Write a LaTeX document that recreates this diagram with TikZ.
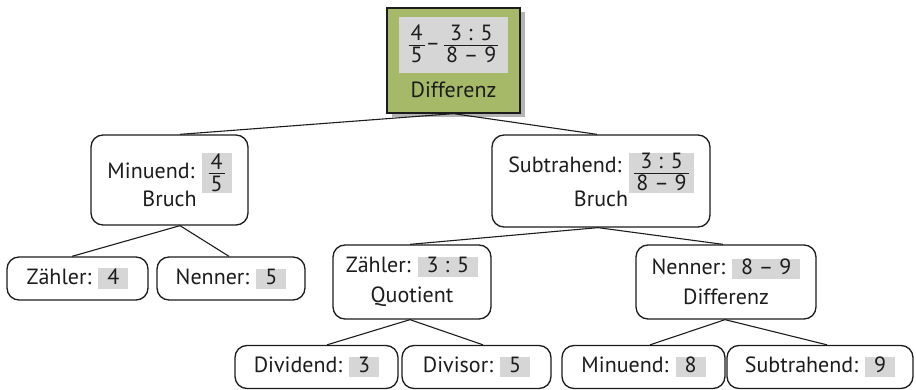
\documentclass[tikz,border=0pt]{standalone}
\usepackage{fontspec}
\setmainfont{PT Sans}
\usetikzlibrary{shadows}
\definecolor{ink}{RGB}{28,28,28}
\definecolor{lgray}{RGB}{214,214,214}
\definecolor{olivebox}{RGB}{166,185,104}
\definecolor{shadowgray}{RGB}{180,180,180}
\renewcommand\arraystretch{0}
\setlength\arrayrulewidth{1.1pt}
\newcommand\fr[2]{\begin{tabular}[c]{@{\hspace{2pt}}c@{\hspace{2pt}}}\rule[-4pt]{0pt}{19pt}#1\\\hline\rule[-2pt]{0pt}{19pt}#2\end{tabular}}
\newcommand\gv[1]{{\setlength\fboxsep{0pt}\colorbox{lgray}{\hspace{9pt}\rule[-4.5pt]{0pt}{20pt}#1\hspace{9pt}}}}
\newcommand\gf[2]{{\setlength\fboxsep{0pt}\colorbox{lgray}{\hspace{#1}#2\hspace{#1}}}}
\begin{document}
\begin{tikzpicture}[x=1pt,y=-1pt,
  every node/.style={font=\fontsize{22}{26}\selectfont, text=ink, inner sep=0pt, align=center},
  box/.style={draw=ink, line width=1.3pt, rounded corners=12pt, fill=white},
  rootbox/.style={draw=ink, line width=1.3pt, fill=olivebox,
     drop shadow={shadow xshift=5pt, shadow yshift=-4pt, fill=shadowgray, opacity=1}},
  link/.style={draw=ink, line width=1.1pt}]
\useasboundingbox (0,0) rectangle (916,390);

\node[rootbox, minimum width=133pt, minimum height=105pt] (root) at (453.5,60.5)
  {{\setlength\fboxsep{0pt}\colorbox{lgray}{\hspace{10pt}\rule[-23pt]{0pt}{56pt}\fr{4}{5}\hspace{1pt}–\hspace{4pt}\fr{3 : 5}{8 – 9}\hspace{10pt}}}\\[8pt]Differenz\rule[-6pt]{0pt}{0pt}};

\node[box, minimum width=157pt, minimum height=90pt] (m1) at (169.5,180)
  {Minuend:\hspace{7pt}\gf{7pt}{\fr{4}{5}}\\[-3.5pt]Bruch};
\node[box, minimum width=218pt, minimum height=92pt] (s1) at (601,181)
  {Subtrahend:\hspace{8pt}\raisebox{-6pt}{\gf{5pt}{\fr{3 : 5}{8 – 9}}}\\[-2.5pt]Bruch\rule[-2pt]{0pt}{0pt}};

\node[box, minimum width=141pt, minimum height=43pt] (z1) at (77.5,278.5) {Zähler:\hspace{7pt}\gv{4}};
\node[box, minimum width=148pt, minimum height=43pt] (n1) at (231,278.5) {Nenner:\hspace{7pt}\gv{5}};

\node[box, minimum width=158pt, minimum height=74pt] (z2) at (412,282) {Zähler:\hspace{7pt}\gv{3 : 5}\\[4pt]Quotient};
\node[box, minimum width=180pt, minimum height=74pt] (n2) at (726,282) {Nenner:\hspace{7pt}\gv{8 – 9}\\[4.5pt]Differenz};

\node[box, minimum width=163pt, minimum height=43pt] (d1) at (316.5,367) {Dividend:\hspace{7pt}\gv{3}};
\node[box, minimum width=149pt, minimum height=43pt] (d2) at (476.5,367) {Divisor:\hspace{7pt}\gv{5}};
\node[box, minimum width=163pt, minimum height=43pt] (m2) at (643.5,367) {Minuend:\hspace{7pt}\gv{8}};
\node[box, minimum width=186pt, minimum height=43pt] (s2) at (820,367) {Subtrahend:\hspace{7pt}\gv{9}};

\draw[link] ([xshift=10.5pt]m1.north) -- (root.south) -- ([xshift=-4pt]s1.north);
\draw[link] ([xshift=-5.5pt]z1.north) -- ([xshift=10.5pt]m1.south) -- ([xshift=-2pt]n1.north);
\draw[link] ([xshift=-2pt]z2.north) -- ([xshift=-3pt]s1.south) -- ([xshift=-3pt]n2.north);
\draw[link] ([xshift=10.5pt]d1.north) -- ([xshift=-2pt]z2.south) -- ([xshift=6.5pt]d2.north);
\draw[link] ([xshift=6.5pt]m2.north) -- ([xshift=-1pt]n2.south) -- ([xshift=7pt]s2.north);
\end{tikzpicture}
\end{document}
